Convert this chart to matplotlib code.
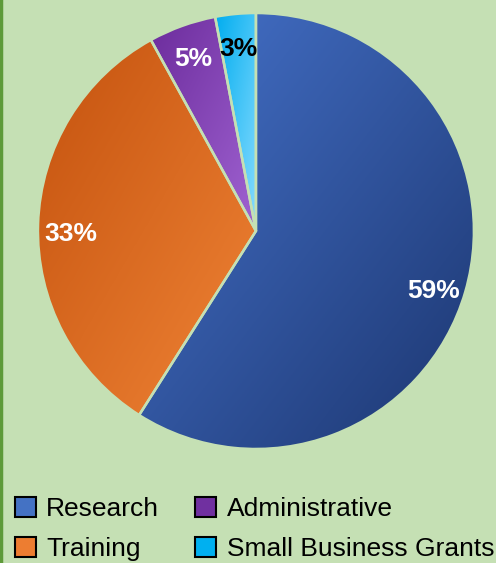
import numpy as np
import matplotlib.pyplot as plt
from matplotlib.colors import LinearSegmentedColormap
from matplotlib.patches import Patch, PathPatch

categories = ["Research", "Training", "Administrative", "Small Business Grants"]
values = [59, 33, 5, 3]
# (start, end) colours of each slice gradient, top-left -> bottom-right
grad_colors = [("#4673CC", "#1C3670"), ("#C4520E", "#F08436"),
               ("#6C2C9C", "#A063D2"), ("#00ADEF", "#86DBFF")]
legend_colors = ["#4472C4", "#ED7D31", "#7030A0", "#00B0F0"]
label_colors = ["white", "white", "white", "black"]

bg = "#C5E0B4"
plt.rcParams['font.family'] = ['Liberation Sans', 'DejaVu Sans']

fig = plt.figure(figsize=(4.96, 5.63), dpi=100, facecolor=bg)
ax = fig.add_axes([0.0765, 0.2025, 0.879, 0.7744])
ax.set_facecolor(bg)

wedges, texts, autotexts = ax.pie(
    values, startangle=90, counterclock=False, radius=1,
    autopct=lambda p: f"{p:.0f}%", pctdistance=0.85,
    colors=legend_colors,
    wedgeprops=dict(edgecolor=bg, linewidth=1.8),
    textprops=dict(fontsize=19, fontweight='bold'))

for w, (c1, c2) in zip(wedges, grad_colors):
    verts = w.get_patch_transform().transform(w.get_path().vertices)
    x0, y0 = verts.min(axis=0)
    x1, y1 = verts.max(axis=0)
    n = 200
    xx, yy = np.meshgrid(np.linspace(0, 1, n), np.linspace(0, 1, n))
    g = (xx + yy) / 2
    cmap = LinearSegmentedColormap.from_list("g", [c1, c2])
    im = ax.imshow(g, cmap=cmap, extent=[x0, x1, y0, y1], origin='upper',
                   vmin=0, vmax=1, zorder=w.get_zorder() + 0.1, aspect='auto')
    im.set_clip_path(w)
    # edge on top of the gradient
    ax.add_patch(PathPatch(w.get_path(), transform=w.get_transform(), fill=False,
                           edgecolor=bg, linewidth=1.8, zorder=w.get_zorder() + 0.2))

# labels sit a little lower than the wedge mid-line in the original
for t, c in zip(autotexts, label_colors):
    x, y = t.get_position()
    drop = 0.04 if abs(y) < 0.5 else 0.012
    t.set_position((x, y - drop))
    t.set_color(c)
    t.set_zorder(5)

ax.set_xlim(-1.0, 1.0)
ax.set_ylim(-1.0, 1.0)
ax.set_aspect('equal')
ax.axis('off')

handles = [Patch(facecolor=c, edgecolor='black', linewidth=1.5) for c in legend_colors]
fig.legend(handles, categories, loc='lower left', bbox_to_anchor=(-0.008, -0.03),
           ncol=2, frameon=False, fontsize=19, handlelength=0.8,
           handleheight=0.8, handletextpad=0.4, columnspacing=1.36,
           labelspacing=0.6, borderaxespad=0.3)

# dark green border on the left edge
fig.add_artist(plt.Line2D([0.002, 0.002], [0, 1], color="#5E9A3A", linewidth=2.5,
                          transform=fig.transFigure))

fig.savefig("out.png", dpi=100, facecolor=bg)
